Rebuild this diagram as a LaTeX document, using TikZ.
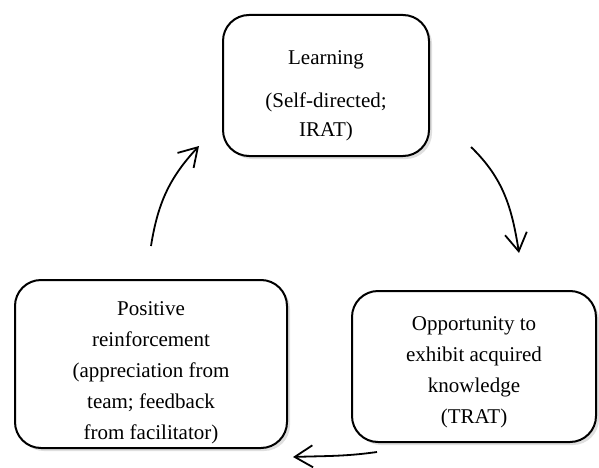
\documentclass[tikz,border=0pt]{standalone}
\usepackage{fontspec}
\setmainfont{Liberation Serif}
\usetikzlibrary{arrows.meta,shadows}

\begin{document}
\begin{tikzpicture}[x=0.5pt,y=0.5pt,
    box/.style={draw,line width=1pt,rounded corners=13pt,fill=white,align=center,inner ysep=1pt,
        font=\fontsize{10.5}{15.5}\selectfont,
        drop shadow={shadow xshift=1.5pt,shadow yshift=-1.5pt,opacity=0.25,fill=gray}},
    cyc/.style={line width=0.9pt,-{Straight Barb[length=9pt,width=11pt,line width=0.9pt]}}]
                    \useasboundingbox (0,0) rectangle (599,467);
                    
                    \node[box,minimum width=103pt,minimum height=70.5pt] (learn) at (326,381.5)
                        {\rule{0pt}{17pt}Learning\\[6pt](Self-directed;\\[-1pt]IRAT)};
                    \node[box,minimum width=136pt,minimum height=84pt] (reinforce) at (151,103)
                        {\rule{0pt}{16pt}Positive\\reinforcement\\(appreciation from\\team; feedback\\from facilitator)};
                    \node[box,minimum width=122pt,minimum height=75.5pt] (opportunity) at (474,100.5)
                        {\rule{0pt}{13pt}Opportunity to\\exhibit acquired\\knowledge\\(TRAT)};
                    
                    \draw[cyc] ([shift={(0,33)}]reinforce.north) to[out=81,in=227] ([shift={(-23,11)}]learn.south west);
                    \draw[cyc] ([shift={(41,10)}]learn.south east) to[out=-44,in=99] ([shift={(45,37)}]opportunity.north);
                    \draw[cyc] ([shift={(26,-9)}]opportunity.south west) to[out=188,in=2] ([shift={(5,-8)}]reinforce.south east);
                \end{tikzpicture}
\end{document}
